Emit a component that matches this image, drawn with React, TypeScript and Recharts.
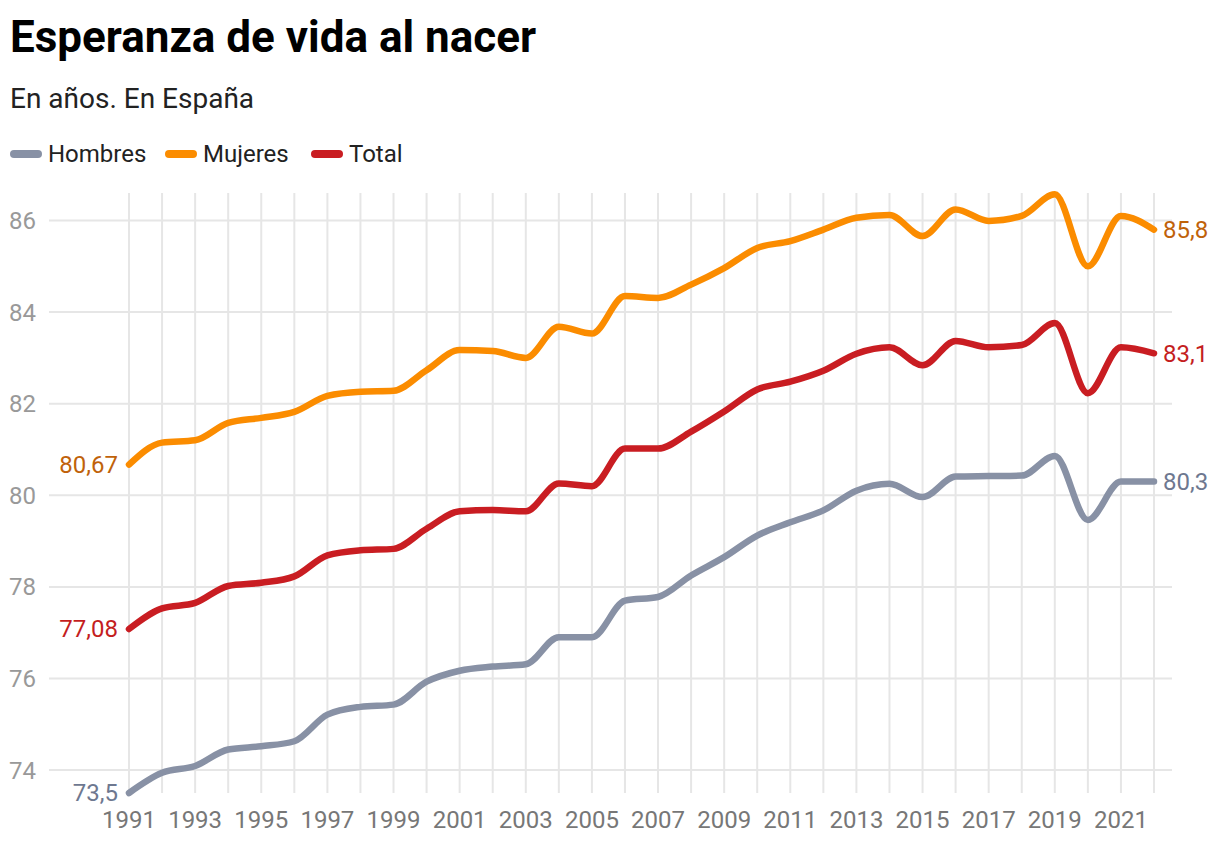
import React from 'react';
import { LineChart, Line, XAxis, YAxis, CartesianGrid, LabelList } from 'recharts';

const years = [1991, 1992, 1993, 1994, 1995, 1996, 1997, 1998, 1999, 2000, 2001, 2002, 2003, 2004, 2005, 2006, 2007, 2008, 2009, 2010, 2011, 2012, 2013, 2014, 2015, 2016, 2017, 2018, 2019, 2020, 2021, 2022];
const hombres = [73.5, 73.94, 74.09, 74.45, 74.52, 74.63, 75.21, 75.38, 75.43, 75.93, 76.17, 76.26, 76.31, 76.9, 76.9, 77.7, 77.78, 78.25, 78.65, 79.12, 79.41, 79.67, 80.1, 80.25, 79.96, 80.41, 80.42, 80.43, 80.86, 79.46, 80.3, 80.3];
const mujeres = [80.67, 81.15, 81.2, 81.58, 81.69, 81.82, 82.17, 82.26, 82.28, 82.73, 83.17, 83.15, 83.0, 83.68, 83.53, 84.35, 84.31, 84.6, 84.96, 85.4, 85.55, 85.8, 86.06, 86.12, 85.66, 86.24, 85.99, 86.1, 86.57, 85.0, 86.1, 85.8];
const total = [77.08, 77.53, 77.65, 78.02, 78.09, 78.23, 78.69, 78.8, 78.83, 79.27, 79.65, 79.68, 79.65, 80.26, 80.2, 81.02, 81.02, 81.39, 81.83, 82.31, 82.48, 82.72, 83.09, 83.23, 82.84, 83.37, 83.23, 83.28, 83.76, 82.23, 83.23, 83.1];
const yTicks = [74, 76, 78, 80, 82, 84, 86];
const xLabelYears = [1991, 1993, 1995, 1997, 1999, 2001, 2003, 2005, 2007, 2009, 2011, 2013, 2015, 2017, 2019, 2021];

const seriesNames = ['Hombres', 'Mujeres', 'Total'];
const lineColors = ['#8891a5', '#fb8c00', '#c91d22'];
const labelColors = ['#6e7890', '#c0620a', '#c41e1e'];

const data = years.map((y, i) => ({ year: y, Hombres: hombres[i], Mujeres: mujeres[i], Total: total[i] }));

const FONT = 'Roboto, "Noto Sans", sans-serif';
const fmt = (v: number) => String(v).replace('.', ',');

const makeEndLabel = (color: string) => (props: any) => {
  const { x, y, value, index } = props;
  if (index === 0) {
    return (
      <text x={x - 11} y={y} dy="0.35em" textAnchor="end" fill={color} fontSize={24} fontFamily={FONT}>
        {fmt(value)}
      </text>
    );
  }
  if (index === years.length - 1) {
    return (
      <text x={x + 9} y={y} dy="0.35em" textAnchor="start" fill={color} fontSize={24} fontFamily={FONT}>
        {fmt(value)}
      </text>
    );
  }
  return null;
};

const legendX = [10, 165, 311];

export default function App() {
  return (
    <div style={{ position: 'absolute', left: 0, top: 0, width: 1220, height: 857, background: '#fff' }}>
      <LineChart
        width={1220}
        height={857}
        data={data}
        margin={{ top: 193, right: 48, bottom: 34, left: 0 }}
      >
        <CartesianGrid stroke="#e6e6e6" strokeWidth={2} syncWithTicks />
        <XAxis
          dataKey="year"
          type="number"
          domain={[1991, 2022]}
          ticks={years}
          interval={0}
          padding={{ left: 80, right: 18 }}
          axisLine={false}
          tickLine={false}
          height={30}
          tickMargin={12}
          tick={{ fill: '#777', fontSize: 24, fontFamily: FONT }}
          tickFormatter={(v: number) => (xLabelYears.includes(v) ? String(v) : '')}
        />
        <YAxis
          type="number"
          domain={[73.5, 86.6]}
          ticks={yTicks}
          interval={0}
          width={49}
          axisLine={false}
          tickLine={false}
          tickMargin={7}
          tick={{ fill: '#999', fontSize: 24, fontFamily: FONT }}
        />
        {seriesNames.map((name, i) => (
          <Line
            key={name}
            type="monotone"
            dataKey={name}
            stroke={lineColors[i]}
            strokeWidth={6.5}
            strokeLinecap="round"
            strokeLinejoin="round"
            dot={false}
            activeDot={false}
            isAnimationActive={false}
          >
            <LabelList dataKey={name} content={makeEndLabel(labelColors[i])} />
          </Line>
        ))}
      </LineChart>
      <svg width={1220} height={190} style={{ position: 'absolute', left: 0, top: 0, pointerEvents: 'none' }}>
        <text x={10} y={52} fontSize={44} fontWeight={700} fontFamily={FONT} fill="#000">
          Esperanza de vida al nacer
        </text>
        <text x={10} y={108} fontSize={28} fontFamily={FONT} fill="#222">
          En años. En España
        </text>
        {seriesNames.map((name, i) => (
          <g key={name}>
            <line x1={legendX[i] + 4} x2={legendX[i] + 28} y1={154} y2={154} stroke={lineColors[i]} strokeWidth={8} strokeLinecap="round" />
            <text x={legendX[i] + 38} y={162} fontSize={24} fontFamily={FONT} fill="#222">
              {name}
            </text>
          </g>
        ))}
      </svg>
    </div>
  );
}
